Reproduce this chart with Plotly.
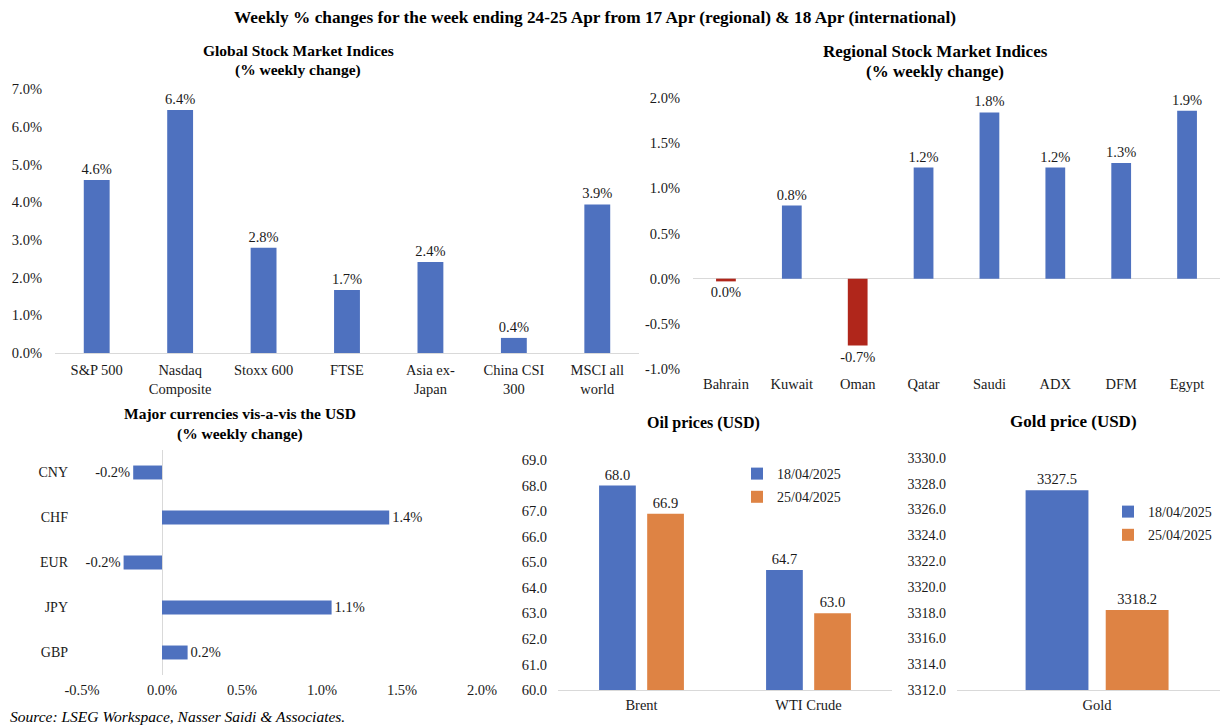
import plotly.graph_objects as go

OFF = 8  # browser default body margin
W, H = 1228 - OFF, 726 - OFF
FONT = "Liberation Serif"
BLUE = "#4E71BF"
ORANGE = "#DE8344"
RED = "#B0261B"
TXT = "#1a1a1a"

# ---- data ----
global_idx = ["S&P 500", "Nasdaq<br>Composite", "Stoxx 600", "FTSE", "Asia ex-<br>Japan",
              "China CSI<br>300", "MSCI all<br>world"]
global_chg = [4.59, 6.44, 2.79, 1.67, 2.41, 0.40, 3.94]

regional_idx = ["Bahrain", "Kuwait", "Oman", "Qatar", "Saudi", "ADX", "DFM", "Egypt"]
regional_chg = [-0.03, 0.81, -0.74, 1.23, 1.84, 1.23, 1.28, 1.86]

currencies = ["CNY", "CHF", "EUR", "JPY", "GBP"]
currency_chg = [-0.18, 1.42, -0.24, 1.06, 0.16]

oil_names = ["Brent", "WTI Crude"]
oil_0418 = [68.0, 64.7]
oil_0425 = [66.9, 63.0]

gold_names = ["Gold"]
gold_0418 = [3327.5]
gold_0425 = [3318.2]

date_labels = ["18/04/2025", "25/04/2025"]

y_ticks_global = [0, 1, 2, 3, 4, 5, 6, 7]
y_ticks_regional = [-1.0, -0.5, 0.0, 0.5, 1.0, 1.5, 2.0]
x_ticks_currency = [-0.5, 0.0, 0.5, 1.0, 1.5, 2.0]
y_ticks_oil = [60, 61, 62, 63, 64, 65, 66, 67, 68, 69]
y_ticks_gold = [3312, 3314, 3316, 3318, 3320, 3322, 3324, 3326, 3328, 3330]


def pct(v):
    return f"{v:z.1f}%"


def num(v):
    return f"{v:.1f}"


def fx(p):
    return (p - OFF) / W


def fy(p):
    return 1 - (p - OFF) / H


def px_x(a, b):
    return [fx(a), min(fx(b), 1.0)]


def px_y(top, bottom):
    return [fy(bottom), fy(top)]


fig = go.Figure()

tickfont = dict(family=FONT, size=14.5, color=TXT)
labfont = dict(family=FONT, size=14.5, color=TXT)
common = dict(textposition="outside", textfont=labfont, cliponaxis=False,
              constraintext="none")

# Global
fig.add_trace(go.Bar(x=global_idx, y=global_chg, marker_color=BLUE, width=0.31,
                     text=[pct(v) for v in global_chg], showlegend=False,
                     xaxis="x", yaxis="y", **common))
# Regional
fig.add_trace(go.Bar(x=regional_idx, y=regional_chg,
                     marker_color=[BLUE if v >= 0 else RED for v in regional_chg], width=0.30,
                     text=[pct(v) for v in regional_chg], showlegend=False,
                     xaxis="x2", yaxis="y2", **common))
# Currencies
fig.add_trace(go.Bar(y=currencies, x=currency_chg, orientation="h", marker_color=BLUE, width=0.31,
                     text=[pct(v) for v in currency_chg], showlegend=False,
                     xaxis="x3", yaxis="y3", **common))
# Oil
fig.add_trace(go.Bar(x=oil_names, y=oil_0418, name=date_labels[0], marker_color=BLUE,
                     width=0.22, offset=-0.254, text=[num(v) for v in oil_0418],
                     legend="legend", legendgroup="a", xaxis="x4", yaxis="y4", **common))
fig.add_trace(go.Bar(x=oil_names, y=oil_0425, name=date_labels[1], marker_color=ORANGE,
                     width=0.22, offset=0.034, text=[num(v) for v in oil_0425],
                     legend="legend", legendgroup="b", xaxis="x4", yaxis="y4", **common))
# Gold
fig.add_trace(go.Bar(x=gold_names, y=gold_0418, name=date_labels[0], marker_color=BLUE,
                     width=0.24, offset=-0.273, text=[num(v) for v in gold_0418],
                     legend="legend2", legendgroup="c", xaxis="x5", yaxis="y5", **common))
fig.add_trace(go.Bar(x=gold_names, y=gold_0425, name=date_labels[1], marker_color=ORANGE,
                     width=0.24, offset=0.033, text=[num(v) for v in gold_0425],
                     legend="legend2", legendgroup="d", xaxis="x5", yaxis="y5", **common))

fig.update_traces(marker_line_width=0)

AX = dict(showgrid=False, zeroline=False, tickfont=tickfont, fixedrange=True,
          automargin=False, ticks="")
LINE = "#d9d9d9"
LEG = dict(xanchor="left", yanchor="top", font=dict(family=FONT, size=14, color=TXT),
           bgcolor="rgba(0,0,0,0)", traceorder="grouped", tracegroupgap=2)

fig.update_layout(
    width=W, height=H, autosize=False,
    margin=dict(l=0, r=0, t=0, b=0, pad=0),
    paper_bgcolor="white", plot_bgcolor="white",
    barmode="overlay",
    font=dict(family=FONT, size=14, color=TXT),
    # Global
    xaxis=dict(AX, domain=px_x(55, 639), anchor="y", showline=True, linecolor=LINE,
               ticklabelstandoff=4),
    yaxis=dict(AX, domain=px_y(89, 353), anchor="x", range=[0, 7], tickvals=y_ticks_global,
               ticktext=[pct(v) for v in y_ticks_global], ticklabelstandoff=12),
    # Regional
    xaxis2=dict(AX, domain=px_x(693, 1220), anchor="y2", showline=False,
                ticklabelstandoff=4),
    yaxis2=dict(AX, domain=px_y(98, 369), anchor="x2", range=[-1, 2], tickvals=y_ticks_regional,
                ticktext=[pct(v) for v in y_ticks_regional], zeroline=True, zerolinecolor=LINE,
                zerolinewidth=1, ticklabelstandoff=12),
    # Currencies
    xaxis3=dict(AX, domain=px_x(82, 482), anchor="y3", range=[-0.5, 2.0],
                tickvals=x_ticks_currency, ticktext=[pct(v) for v in x_ticks_currency],
                zeroline=True, zerolinecolor=LINE, zerolinewidth=1, ticklabelstandoff=4),
    yaxis3=dict(AX, domain=px_y(450, 675), anchor="x3", autorange="reversed",
                ticklabelstandoff=13, tickfont=dict(family=FONT, size=14, color=TXT)),
    # Oil
    xaxis4=dict(AX, domain=px_x(558, 892), anchor="y4", showline=True, linecolor=LINE,
                ticklabelstandoff=2),
    yaxis4=dict(AX, domain=px_y(460, 690), anchor="x4", range=[60, 69],
                tickvals=y_ticks_oil, ticktext=[num(v) for v in y_ticks_oil],
                ticklabelstandoff=10),
    # Gold
    xaxis5=dict(AX, domain=px_x(957, 1228), anchor="y5", range=[-0.535, 0.5],
                showline=True, linecolor=LINE, ticklabelstandoff=2),
    yaxis5=dict(AX, domain=px_y(458, 690), anchor="x5", range=[3312, 3330],
                tickvals=y_ticks_gold, ticktext=[num(v) for v in y_ticks_gold],
                ticklabelstandoff=10, tickfont=dict(family=FONT, size=14, color=TXT)),
    legend=dict(LEG, x=fx(737), y=fy(458)),
    legend2=dict(LEG, x=fx(1108), y=fy(496)),
)


def title(text, cx, cy, size=15):
    fig.add_annotation(text=text, x=fx(cx), y=fy(cy), xref="paper", yref="paper",
                       showarrow=False, xanchor="center", yanchor="middle",
                       font=dict(family=FONT, size=size, color="black"))


title("<b>Weekly % changes for the week ending 24-25 Apr from 17 Apr (regional) & 18 Apr (international)</b>",
      595, 17, 17.3)
title("<b>Global Stock Market Indices</b>", 298, 50, 15.5)
title("<b>(% weekly change)</b>", 298, 70, 15.5)
title("<b>Regional Stock Market Indices</b>", 935, 52, 17)
title("<b>(% weekly change)</b>", 935, 72, 17)
title("<b>Major currencies vis-a-vis the USD</b>", 240, 413, 15.5)
title("<b>(% weekly change)</b>", 240, 434, 15.5)
title("<b>Oil prices (USD)</b>", 703, 423, 16)
title("<b>Gold price (USD)</b>", 1073, 421, 17)

fig.add_annotation(text="<i>Source: LSEG Workspace, Nasser Saidi & Associates.</i>",
                   x=fx(8), y=fy(716), xref="paper", yref="paper", showarrow=False,
                   xanchor="left", yanchor="middle",
                   font=dict(family=FONT, size=15.5, color="black"))

fig.write_html("out.html")
